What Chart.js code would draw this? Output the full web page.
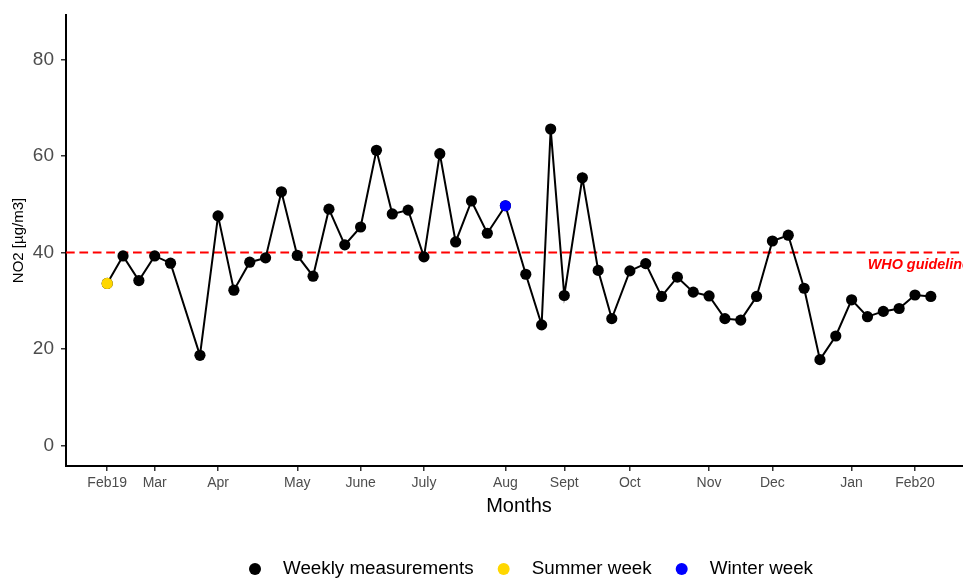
<!DOCTYPE html>
<html>
<head>
<meta charset="utf-8">
<script src="https://cdn.jsdelivr.net/npm/chart.js@4/dist/chart.umd.min.js"></script>
<style>
  html, body { margin: 0; padding: 0; background: #ffffff; overflow: hidden; }
  #wrap { width: 1000px; height: 579px; }
</style>
</head>
<body>
<div id="wrap"><canvas id="c" width="1000" height="579"></canvas></div>
<script>
// Days since the first weekly sample, and the weekly mean NO2 (µg/m3)
const sampleDays = [0, 7, 14, 21, 28, 41, 49, 56, 63, 70, 77, 84, 91, 98, 105, 112, 119, 126, 133, 140,
  147, 154, 161, 168, 176, 185, 192, 196, 202, 210, 217, 223, 231, 238, 245, 252, 259, 266, 273, 280,
  287, 294, 301, 308, 315, 322, 329, 336, 343, 350, 357, 364];
const no2Values = [33.6, 39.3, 34.2, 39.3, 37.8, 18.7, 47.6, 32.2, 38.0, 38.9, 52.6, 39.4, 35.1, 49.0, 41.6,
  45.3, 61.2, 48.0, 48.8, 39.1, 60.5, 42.2, 50.7, 44.0, 49.7, 35.5, 25.0, 65.6, 31.1, 55.5, 36.3, 26.3,
  36.2, 37.7, 30.9, 34.9, 31.8, 31.0, 26.3, 26.0, 30.9, 42.4, 43.6, 32.6, 17.8, 22.7, 30.2, 26.7, 27.8,
  28.4, 31.2, 30.9];

// Highlighted weeks
const summerDays = [0];
const summerValues = [33.6];
const winterDays = [176];
const winterValues = [49.7];

// Month ticks on the day axis
const monthTickDays = [0, 21, 49, 84, 112, 140, 176, 202, 231, 266, 294, 329, 357];
const monthTickLabels = ['Feb19', 'Mar', 'Apr', 'May', 'June', 'July', 'Aug', 'Sept', 'Oct', 'Nov', 'Dec', 'Jan', 'Feb20'];
const no2Ticks = [0, 20, 40, 60, 80];

const whoGuideline = 40;
const legendOrder = ['Weekly measurements', 'Summer week', 'Winter week'];

const toPoints = (xs, ys) => xs.map((x, i) => ({ x: x, y: ys[i] }));

const FONT = '"Liberation Sans", Arial, Helvetica, sans-serif';
Chart.defaults.font.family = FONT;

const X_MIN = -18.2, X_MAX = 382.2;

// Guideline label and the bottom legend
const annotations = {
  id: 'annotations',
  afterDatasetsDraw(chart) {
    const { ctx, chartArea, scales } = chart;
    const y = scales.y.getPixelForValue(whoGuideline);
    ctx.save();
    ctx.font = 'italic bold 14.4px ' + FONT;
    ctx.fillStyle = '#FF0000';
    ctx.textAlign = 'right';
    ctx.textBaseline = 'alphabetic';
    ctx.fillText('WHO guideline', chartArea.right - 2, y + 16);
    ctx.restore();
  },
  afterDraw(chart) {
    const { ctx } = chart;
    const items = legendOrder.map(name => chart.data.datasets.find(d => d.label === name));
    ctx.save();
    ctx.font = '18.8px ' + FONT;
    ctx.textBaseline = 'middle';
    ctx.textAlign = 'left';
    const cy = 569;
    let x = 255;
    items.forEach(d => {
      ctx.beginPath();
      ctx.arc(x, cy, 6, 0, Math.PI * 2);
      ctx.fillStyle = d.pointBackgroundColor;
      ctx.fill();
      ctx.fillStyle = '#000000';
      ctx.fillText(d.label, x + 28, cy);
      x += 28 + ctx.measureText(d.label).width + 30;
    });
    ctx.restore();
  }
};

const noEdgePadding = s => {
  s.paddingTop = 0; s.paddingBottom = 0; s.paddingLeft = 0; s.paddingRight = 0;
};

new Chart(document.getElementById('c'), {
  type: 'line',
  data: {
    datasets: [
      {
        label: 'Summer week',
        data: toPoints(summerDays, summerValues),
        showLine: false,
        pointRadius: 5.6,
        pointBorderWidth: 0,
        pointBackgroundColor: '#FFD700',
        borderColor: '#FFD700',
        order: 0
      },
      {
        label: 'Winter week',
        data: toPoints(winterDays, winterValues),
        showLine: false,
        pointRadius: 5.6,
        pointBorderWidth: 0,
        pointBackgroundColor: '#0000FF',
        borderColor: '#0000FF',
        order: 0
      },
      {
        label: 'Weekly measurements',
        data: toPoints(sampleDays, no2Values),
        borderColor: '#000000',
        borderWidth: 2,
        tension: 0,
        pointRadius: 5.6,
        pointBorderWidth: 0,
        pointBackgroundColor: '#000000',
        order: 1
      },
      {
        label: 'WHO guideline',
        data: [{ x: X_MIN, y: whoGuideline }, { x: X_MAX, y: whoGuideline }],
        borderColor: '#FF0000',
        borderWidth: 2,
        borderDash: [8.7, 4.7],
        pointRadius: 0,
        order: 2
      }
    ]
  },
  options: {
    responsive: false,
    animation: false,
    events: [],
    devicePixelRatio: 1,
    layout: { padding: { top: 15, right: 28, bottom: 53, left: 0 } },
    plugins: {
      legend: { display: false },
      tooltip: { enabled: false },
      title: { display: false }
    },
    scales: {
      x: {
        type: 'linear',
        min: X_MIN,
        max: X_MAX,
        afterBuildTicks: s => { s.ticks = monthTickDays.map(v => ({ value: v })); },
        afterFit: s => { s.height = 60; noEdgePadding(s); },
        ticks: {
          autoSkip: false,
          maxRotation: 0,
          padding: 4,
          color: '#4D4D4D',
          font: { size: 14 },
          callback: (v, i) => monthTickLabels[i]
        },
        grid: { drawOnChartArea: false, drawTicks: true, tickLength: 5, color: '#333333', lineWidth: 1.5 },
        border: { display: true, color: '#000000', width: 2 },
        title: { display: true, text: 'Months', color: '#000000', font: { size: 20 }, padding: { top: 0, bottom: 7.5 } }
      },
      y: {
        min: -4.25,
        max: 89.25,
        afterBuildTicks: s => { s.ticks = no2Ticks.map(v => ({ value: v })); },
        afterFit: s => { s.width = 66; noEdgePadding(s); },
        ticks: {
          padding: 7,
          color: '#4D4D4D',
          font: { size: 19 }
        },
        grid: { drawOnChartArea: false, drawTicks: true, tickLength: 5, color: '#333333', lineWidth: 1.5 },
        border: { display: true, color: '#000000', width: 2 },
        title: { display: true, text: 'NO2 [µg/m3]', color: '#000000', font: { size: 15 }, padding: { top: 10, bottom: 0 } }
      }
    }
  },
  plugins: [annotations]
});
</script>
</body>
</html>
